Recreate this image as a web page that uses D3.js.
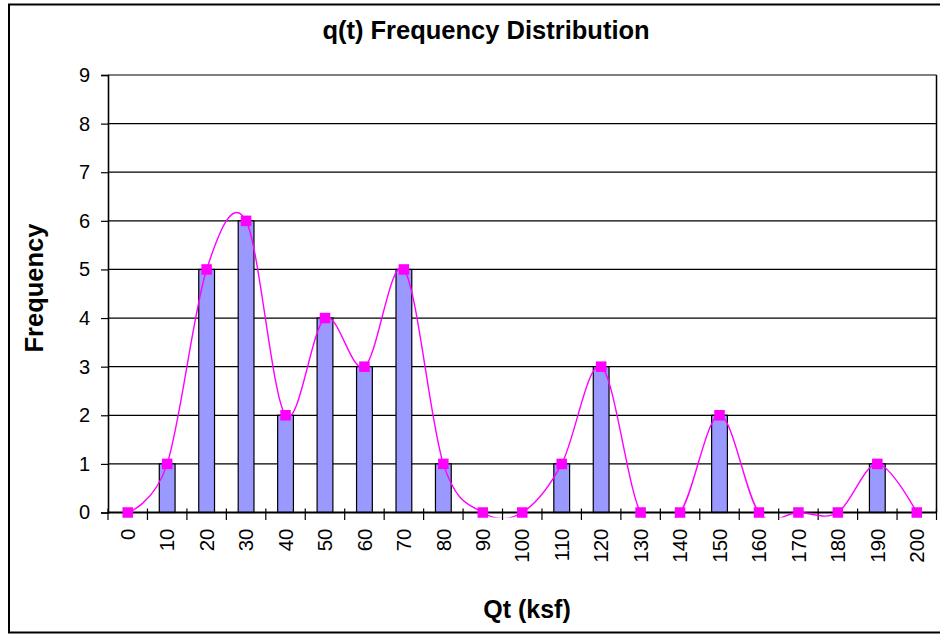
<!DOCTYPE html>
<html>
<head>
<meta charset="utf-8">
<script src="https://cdn.jsdelivr.net/npm/d3@7"></script>
<style>
  html, body { margin: 0; padding: 0; background: #fff; }
  svg { display: block; font-family: "Liberation Sans", Arial, sans-serif; }
</style>
</head>
<body>
<svg id="chart" width="940" height="634"></svg>
<script>
// ---- data ----
const categories = ["0","10","20","30","40","50","60","70","80","90","100","110","120","130","140","150","160","170","180","190","200"];
const frequency  = [0, 1, 5, 6, 2, 4, 3, 5, 1, 0, 0, 1, 3, 0, 0, 2, 0, 0, 0, 1, 0];
const yTicks     = [0, 1, 2, 3, 4, 5, 6, 7, 8, 9];
const chartTitle = "q(t) Frequency Distribution";
const xTitle     = "Qt (ksf)";
const yTitle     = "Frequency";

// ---- layout ----
const W = 940, H = 634;
const plot = { left: 108, right: 936.5, top: 75, bottom: 512.5 };

const svg = d3.select("#chart");

// chart area border (extends past the right edge of the window)
svg.append("rect")
  .attr("x", 9).attr("y", 4.5)
  .attr("width", 960).attr("height", 628)
  .attr("fill", "#fff").attr("stroke", "#000").attr("stroke-width", 2);

const x = d3.scaleBand()
  .domain(categories)
  .range([plot.left, plot.right])
  .paddingInner(0).paddingOuter(0);

const y = d3.scaleLinear()
  .domain([0, 9])
  .range([plot.bottom, plot.top]);

// gridlines
svg.append("g")
  .selectAll("line")
  .data(yTicks.filter(d => d > 0))
  .join("line")
  .attr("x1", plot.left).attr("x2", plot.right)
  .attr("y1", d => y(d)).attr("y2", d => y(d))
  .attr("stroke", "#000").attr("stroke-width", 1.2);

// plot right border
svg.append("line")
  .attr("x1", plot.right).attr("x2", plot.right)
  .attr("y1", plot.top).attr("y2", plot.bottom)
  .attr("stroke", "#000").attr("stroke-width", 1.5);

// bars (gap width 150%)
const bw = x.bandwidth() / 2.5;
svg.append("g")
  .selectAll("rect")
  .data(frequency.map((v, i) => ({ c: categories[i], v })).filter(d => d.v > 0))
  .join("rect")
  .attr("x", d => x(d.c) + x.bandwidth() / 2 - bw / 2)
  .attr("y", d => y(d.v))
  .attr("width", bw)
  .attr("height", d => y(0) - y(d.v))
  .attr("fill", "#9999FF")
  .attr("stroke", "#000")
  .attr("stroke-width", 1.2);

// y axis
const yAxis = d3.axisLeft(y).tickValues(yTicks).tickSize(7).tickPadding(11).tickFormat(d3.format("d"));
const gy = svg.append("g").attr("transform", `translate(${plot.left},0)`).call(yAxis);
gy.select(".domain").attr("stroke", "#000").attr("stroke-width", 1.6);
gy.selectAll(".tick line").attr("stroke", "#000").attr("stroke-width", 1.2);
gy.selectAll("text").attr("font-size", 20).attr("fill", "#000")
  .attr("font-family", "Liberation Sans, Arial, sans-serif");

// x axis with cross ticks at category boundaries
svg.append("line")
  .attr("x1", plot.left).attr("x2", plot.right)
  .attr("y1", plot.bottom).attr("y2", plot.bottom)
  .attr("stroke", "#000").attr("stroke-width", 2.2);
const boundaries = categories.map(c => x(c)).concat([plot.right]);
svg.append("g")
  .selectAll("line")
  .data(boundaries)
  .join("line")
  .attr("x1", d => d).attr("x2", d => d)
  .attr("y1", plot.bottom - 4).attr("y2", plot.bottom + 7.5)
  .attr("stroke", "#000").attr("stroke-width", 1.2);

svg.append("g")
  .selectAll("text")
  .data(categories)
  .join("text")
  .attr("transform", d => `translate(${x(d) + x.bandwidth() / 2},${plot.bottom + 16}) rotate(-90)`)
  .attr("text-anchor", "end")
  .attr("dy", "0.35em")
  .attr("font-size", 20.5)
  .attr("fill", "#000")
  .text(d => d);

// smoothed line with markers
const pts = frequency.map((v, i) => [x(categories[i]) + x.bandwidth() / 2, y(v)]);
svg.append("clipPath").attr("id", "clip")
  .append("rect")
  .attr("x", plot.left).attr("y", plot.top - 10)
  .attr("width", plot.right - plot.left).attr("height", plot.bottom - plot.top + 15);

svg.append("path")
  .attr("clip-path", "url(#clip)")
  .attr("d", d3.line().curve(d3.curveCatmullRom.alpha(0))(pts))
  .attr("fill", "none")
  .attr("stroke", "#FF00FF")
  .attr("stroke-width", 1.4);

const ms = 10.5;
svg.append("g")
  .selectAll("rect")
  .data(pts)
  .join("rect")
  .attr("x", d => d[0] - ms / 2)
  .attr("y", d => d[1] - ms / 2)
  .attr("width", ms).attr("height", ms)
  .attr("fill", "#FF00FF");

// titles
svg.append("text")
  .attr("x", 486).attr("y", 39)
  .attr("text-anchor", "middle")
  .attr("font-size", 25.5).attr("font-weight", "bold")
  .attr("fill", "#000")
  .text(chartTitle);

svg.append("text")
  .attr("x", 527).attr("y", 618)
  .attr("text-anchor", "middle")
  .attr("font-size", 25).attr("font-weight", "bold")
  .attr("fill", "#000")
  .text(xTitle);

svg.append("text")
  .attr("transform", "translate(43,288) rotate(-90)")
  .attr("text-anchor", "middle")
  .attr("font-size", 25.5).attr("font-weight", "bold")
  .attr("fill", "#000")
  .text(yTitle);
</script>
</body>
</html>
